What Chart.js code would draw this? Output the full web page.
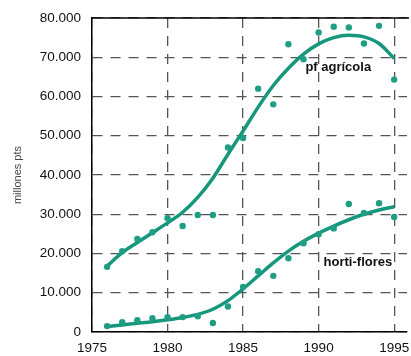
<!DOCTYPE html>
<html>
<head>
<meta charset="utf-8">
<script src="https://cdn.jsdelivr.net/npm/chart.js@4"></script>
<style>
  body { margin: 0; background: #fff; }
  #wrap { width: 411px; height: 356px; position: relative; }
</style>
</head>
<body>
<div id="wrap"><canvas id="grafico"></canvas></div>
<script>
// años de la serie
const years = [1976, 1977, 1978, 1979, 1980, 1981, 1982, 1983, 1984, 1985,
               1986, 1987, 1988, 1989, 1990, 1991, 1992, 1993, 1994, 1995];

// valores observados (millones pts)
const pfAgricola = [16600, 20600, 23700, 25400, 29000, 27000, 29800, 29800, 47000, 49400,
                    62000, 58000, 73300, 69500, 76300, 77800, 77600, 73500, 78000, 64300];
const hortiFlores = [1500, 2500, 3000, 3500, 3800, 3800, 4000, 2300, 6500, 11500,
                     15500, 14300, 18800, 22600, 24900, 26400, 32600, 30300, 32800, 29300];

// curvas ajustadas
const pfAgricolaAjuste = [16800, 20200, 22800, 25300, 27800, 30500, 34300, 39200, 45300, 51200,
                          57300, 62800, 67200, 70800, 73400, 75000, 75600, 75200, 73500, 69700];
const hortiFloresAjuste = [1400, 1800, 2200, 2600, 3100, 3700, 4500, 5800, 8000, 11000,
                           14300, 17600, 20600, 23100, 25200, 27000, 28600, 30000, 31100, 31900];

const yTicks = [0, 10000, 20000, 30000, 40000, 50000, 60000, 70000, 80000];
const yTickLabels = ["0", "10.000", "20.000", "30.000", "40.000", "50.000", "60.000", "70.000", "80.000"];
const xTickLabels = ["1975", "1980", "1985", "1990", "1995"];

// etiquetas de las series: [texto, año, valor]
const serieLabels = [["pf agrícola", 1991.3, 67300], ["horti-flores", 1992.6, 17600]];

const TEAL = "#15977c";
const DOT = "#1f9e84";
const FONT = "'Liberation Sans', Arial, sans-serif";

function pts(vals) {
    return years.map((y, i) => ({ x: y, y: vals[i] }));
}

// borde superior y etiquetas de series
const extras = {
    id: "extras",
    afterDraw(chart) {
        const c = chart.ctx, a = chart.chartArea;
        const sx = chart.scales.x, sy = chart.scales.y;
        c.save();
        c.strokeStyle = "#000";
        c.lineWidth = 1.5;
        c.beginPath();
        c.moveTo(a.left, a.top);
        c.lineTo(a.right + 2, a.top);
        c.stroke();
        c.fillStyle = "#111";
        c.font = "bold 13px " + FONT;
        c.textAlign = "center";
        c.textBaseline = "middle";
        serieLabels.forEach(l => {
            c.fillText(l[0], sx.getPixelForValue(l[1]), sy.getPixelForValue(l[2]));
        });
        c.restore();
    }
};

new Chart(document.getElementById("grafico"), {
    type: "line",
    data: {
        datasets: [
            { data: pts(pfAgricola), showLine: false, pointRadius: 3.2, pointBackgroundColor: DOT, pointBorderWidth: 0 },
            { data: pts(hortiFlores), showLine: false, pointRadius: 3.2, pointBackgroundColor: DOT, pointBorderWidth: 0 },
            { data: pts(pfAgricolaAjuste), borderColor: TEAL, borderWidth: 3.5, pointRadius: 0, tension: 0.4, cubicInterpolationMode: "monotone" },
            { data: pts(hortiFloresAjuste), borderColor: TEAL, borderWidth: 3.5, pointRadius: 0, tension: 0.4, cubicInterpolationMode: "monotone" }
        ]
    },
    options: {
        responsive: true,
        maintainAspectRatio: false,
        animation: false,
        layout: { padding: { top: 18, right: 2, left: 0, bottom: 0 } },
        plugins: { legend: { display: false }, tooltip: { enabled: false } },
        scales: {
            x: {
                type: "linear",
                min: 1975,
                max: 1995.85,
                afterBuildTicks: s => { s.ticks = xTickLabels.map(t => ({ value: +t })); },
                afterFit: s => { s.height = 24; s.paddingLeft = 0; s.paddingRight = 0; },
                ticks: {
                    callback: v => String(v),
                    color: "#111",
                    font: { family: FONT, size: 13.5 },
                    padding: 8,
                    maxRotation: 0
                },
                grid: { color: "#555", lineWidth: 1.3, drawTicks: false },
                border: { display: true, color: "#000", width: 1.5, dash: [10, 8] }
            },
            y: {
                min: 0,
                max: 80000,
                afterBuildTicks: s => { s.ticks = yTicks.map(v => ({ value: v })); },
                afterFit: s => { s.width = 92; s.paddingTop = 0; s.paddingBottom = 0; },
                ticks: {
                    callback: (v, i) => yTickLabels[i],
                    color: "#111",
                    font: { family: FONT, size: 13.5 },
                    padding: 11
                },
                title: {
                    display: true,
                    text: "millones pts",
                    color: "#444",
                    font: { family: FONT, size: 11 },
                    padding: { top: 11, bottom: 0 }
                },
                grid: { color: "#555", lineWidth: 1.3, drawTicks: false },
                border: { display: true, color: "#000", width: 1.5, dash: [10, 8] }
            }
        }
    },
    plugins: [extras]
});
</script>
</body>
</html>
